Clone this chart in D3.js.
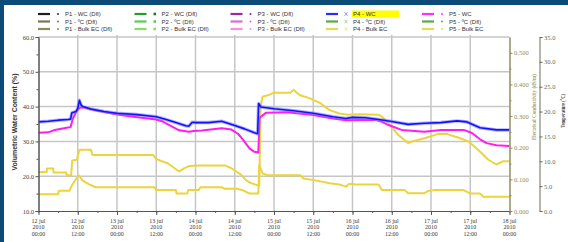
<!DOCTYPE html>
<html>
<head>
<meta charset="utf-8" />
<script src="https://d3js.org/d3.v7.min.js"></script>
<style>
  body {margin: 0; background: #fff;}
  text {font-family: "Liberation Serif", serif;}
</style>
</head>
<body>
<svg id="chart"></svg>
<script>
var width = 568, height = 242;

// [hours since 12 jul 2010 00:00, value]
var p4Wc = [[0,35.6],[3,35.8],[6,36.1],[9,36.3],[9.8,36.4],[10.2,38.2],[11.5,38.6],[12,39.5],[12.5,41.8],[13,40.5],[13.5,40.0],[16,39.3],[20,38.6],[24,38.1],[30,37.7],[36,37.1],[39,36.3],[42,35.4],[45,34.5],[46,34.4],[47,35.5],[48,35.4],[52,35.4],[56,35.8],[60,34.6],[63,33.6],[66,32.5],[67,32.2],[67.3,40.9],[68,39.9],[72,39.4],[78,38.8],[84,38.1],[90,37.1],[94,36.6],[96,36.9],[100,36.8],[104,36.3],[108,35.7],[113,34.9],[118,35.2],[123,35.4],[128,35.9],[131,35.6],[135,33.9],[140,33.3],[144,33.3]];

var p5Wc = [[0,32.5],[3,32.6],[5,33.3],[9,34.0],[9.8,34.1],[10.5,36.5],[11.5,38.5],[12.5,39.6],[13.5,39.8],[17,39.0],[24,37.7],[29,37.1],[36,36.3],[38,35.7],[40,34.7],[43,33.2],[46,32.8],[47.5,33.0],[50,33.1],[56,33.8],[59,33.4],[61,32.2],[62.5,30.5],[64.5,28.0],[66,27.0],[67.2,26.8],[67.6,36.8],[69.5,38.2],[76,38.4],[84,37.6],[90,36.6],[94,36.1],[103,36.2],[105,35.6],[107,34.7],[111,33.3],[118,32.8],[123,33.3],[130,33.3],[132.5,32.4],[135,30.6],[137,29.5],[140,28.9],[144,28.7]];

// bulk EC in dS/m
var p4Ec = [[0,0.053],[6,0.053],[6.2,0.064],[9.5,0.064],[10,0.077],[11,0.094],[12.3,0.113],[13.5,0.096],[15.5,0.084],[17.5,0.075],[35.5,0.075],[36,0.066],[42,0.066],[42.2,0.055],[45.5,0.055],[45.7,0.066],[49,0.066],[49.5,0.075],[56,0.075],[57,0.070],[61,0.070],[63,0.063],[64.5,0.055],[67.2,0.055],[67.5,0.145],[68.5,0.119],[70,0.113],[80,0.113],[81,0.103],[85,0.096],[89,0.088],[92,0.084],[94,0.077],[95,0.086],[97,0.084],[104,0.084],[105,0.066],[112,0.066],[113,0.056],[118,0.056],[119,0.063],[121,0.066],[130,0.066],[132,0.055],[135,0.055],[136,0.045],[144,0.045]];

var p5Ec = [[0,0.123],[2.5,0.123],[2.6,0.134],[4.5,0.134],[4.6,0.122],[8.5,0.122],[8.6,0.113],[10,0.113],[10.3,0.160],[11.8,0.162],[12,0.176],[12.6,0.194],[16,0.194],[16.5,0.177],[35,0.177],[36,0.165],[37.5,0.158],[39.5,0.151],[41.5,0.136],[43,0.125],[44.5,0.135],[46,0.142],[49,0.144],[57,0.144],[59,0.135],[61,0.121],[62,0.114],[63.5,0.097],[65,0.088],[67,0.081],[67.5,0.081],[67.9,0.330],[68.5,0.361],[70.5,0.367],[72,0.374],[77,0.374],[78,0.383],[79,0.374],[80,0.366],[83,0.356],[86,0.342],[89,0.319],[92,0.308],[94.5,0.304],[98,0.306],[104,0.304],[105,0.298],[107,0.278],[110,0.240],[113,0.215],[115,0.222],[118,0.230],[122,0.243],[125,0.243],[128,0.233],[131.5,0.220],[134.5,0.193],[137.5,0.162],[140,0.147],[142,0.157],[144,0.157]];

var wcTicks = [10, 20, 30, 40, 50, 60];
var ecTicks = [0, 0.1, 0.2, 0.3, 0.4, 0.5];
var tempTicks = [0, 5, 10, 15, 20, 25, 30, 35];

var legendNames = [
  ["P1 - WC (Dfl)", "P1 - \u00baC (Dfl)", "P1 - Bulk EC (Dfl)"],
  ["P2 - WC (Dfl)", "P2 - \u00baC (Dfl)", "P2 - Bulk EC (Dfl)"],
  ["P3 - WC (Dfl)", "P3 - \u00baC (Dfl)", "P3 - Bulk EC (Dfl)"],
  ["P4 - WC", "P4 - \u00baC (Dfl)", "P4 - Bulk EC"],
  ["P5 - WC", "P5 - \u00baC (Dfl)", "P5 - Bulk EC"]
];
var legendColors = [
  ["#1e1e1e", "#77775a", "#8c8c55"],
  ["#2a9a2a", "#5acb5a", "#82e060"],
  ["#9a2a9a", "#d96ad9", "#ff8fd0"],
  ["#2b2bff", "#5aaa48", "#ecd84e"],
  ["#ff30ff", "#5aaa48", "#ecd84e"]
];
var legendMarkColors = [
  ["#333", "#77775a", "#8c8c55"],
  ["#1d7a1d", "#5acb5a", "#82e060"],
  ["#7a2a7a", "#d96ad9", "#ff8fd0"],
  ["#8d8dff", "#9ed08e", "#f2e48a"],
  ["#ff30ff", "#5aaa48", "#ecd84e"]
];

var svg = d3.select("#chart").attr("width", width).attr("height", height);

svg.append("rect").attr("width", width).attr("height", height).attr("fill", "#fff");
svg.append("rect").attr("width", 4).attr("height", height).attr("fill", "#0c4a78");
svg.append("rect").attr("width", width).attr("height", 5).attr("fill", "#0c4a78");

var t0 = Date.UTC(2010, 6, 12);
function toDate(h) { return new Date(t0 + h * 3600e3); }

var x = d3.scaleUtc().domain([toDate(0), toDate(144)]).range([38.5, 509.5]);
var yWc = d3.scaleLinear().domain([10, 60]).range([211, 37]);
var yEc = d3.scaleLinear().domain([0, 0.55]).range([211, 37]);
var yT = d3.scaleLinear().domain([0, 35]).range([211, 37]);

// grid
var grid = svg.append("g");
grid.selectAll("line.v").data(d3.utcHour.every(12).range(toDate(12), toDate(144)))
  .enter().append("line")
  .attr("x1", d => x(d)).attr("x2", d => x(d))
  .attr("y1", 35).attr("y2", 211)
  .attr("stroke", "#c6c6c6").attr("stroke-width", 1.5);
grid.selectAll("line.h").data(wcTicks.slice(1))
  .enter().append("line")
  .attr("x1", 38.5).attr("x2", 509.5)
  .attr("y1", d => yWc(d)).attr("y2", d => yWc(d))
  .attr("stroke", "#c6c6c6").attr("stroke-width", 1.5);

// lines
var lineWc = d3.line().x(d => x(toDate(d[0]))).y(d => yWc(d[1]));
var lineEc = d3.line().x(d => x(toDate(d[0]))).y(d => yEc(d[1]));

[p4Ec, p5Ec].forEach(function(s) {
  svg.append("path").attr("d", lineEc(s)).attr("fill", "none")
    .attr("stroke", "#ecd43c").attr("stroke-width", 2).attr("stroke-linejoin", "round");
});
svg.append("path").attr("d", lineWc(p5Wc)).attr("fill", "none")
  .attr("stroke", "#ff1cf4").attr("stroke-width", 2).attr("stroke-linejoin", "round");
svg.append("path").attr("d", lineWc(p4Wc)).attr("fill", "none")
  .attr("stroke", "#8080ff").attr("stroke-width", 3.5).attr("stroke-opacity", 0.6)
  .attr("stroke-linejoin", "round");
svg.append("path").attr("d", lineWc(p4Wc)).attr("fill", "none")
  .attr("stroke", "#1212ff").attr("stroke-width", 1.6).attr("stroke-linejoin", "round");

// axes
function styleAxis(g, color, size) {
  g.selectAll("path.domain").attr("stroke", color);
  g.selectAll("line").attr("stroke", color);
  g.selectAll("text").attr("fill", color).style("font-size", size + "px")
    .style("font-family", "'Liberation Serif', serif");
}

var left = svg.append("g").attr("transform", "translate(38.5,0)")
  .call(d3.axisLeft(yWc).tickValues(wcTicks).tickFormat(d3.format(".1f")).tickSize(3).tickPadding(1.5));
styleAxis(left, "#555", 6.5);
left.selectAll("text").attr("fill", "#444");
svg.append("g").attr("transform", "translate(38.5,0)")
  .call(d3.axisLeft(yWc).tickValues([15, 25, 35, 45, 55]).tickFormat("").tickSize(2).tickSizeOuter(0))
  .call(g => styleAxis(g, "#555", 6));

var bottom = svg.append("g").attr("transform", "translate(0,211)")
  .call(d3.axisBottom(x).ticks(d3.utcHour.every(12)).tickFormat("").tickSize(4).tickSizeOuter(0));
styleAxis(bottom, "#555", 6);
svg.append("g").attr("transform", "translate(0,211)")
  .call(d3.axisBottom(x).ticks(d3.utcHour.every(6)).tickFormat("").tickSize(2).tickSizeOuter(0))
  .call(g => styleAxis(g, "#555", 6));

var fDay = d3.utcFormat("%-d jul"), fYear = d3.utcFormat("%Y"), fTime = d3.utcFormat("%H:%M");
var xl = svg.append("g").selectAll("text").data(d3.utcHour.every(12).range(toDate(0), toDate(145)))
  .enter().append("text")
  .attr("text-anchor", "middle").attr("fill", "#3a3a3a").style("font-size", "6px");
xl.append("tspan").attr("x", d => x(d)).attr("y", 222.5).text(fDay);
xl.append("tspan").attr("x", d => x(d)).attr("y", 229).text(fYear);
xl.append("tspan").attr("x", d => x(d)).attr("y", 235.5).text(fTime);

var ecAxis = svg.append("g").attr("transform", "translate(509.5,0)")
  .call(d3.axisRight(yEc).tickValues(ecTicks).tickFormat(d3.format(".3f")).tickSize(3).tickPadding(1.5).tickSizeOuter(0));
styleAxis(ecAxis, "#8e8e62", 6.5);
svg.append("g").attr("transform", "translate(509.5,0)")
  .call(d3.axisRight(yEc).tickValues([0.05, 0.15, 0.25, 0.35, 0.45]).tickFormat("").tickSize(2).tickSizeOuter(0))
  .call(g => styleAxis(g, "#8e8e62", 6));

var tAxis = svg.append("g").attr("transform", "translate(539.5,0)")
  .call(d3.axisRight(yT).tickValues(tempTicks).tickFormat(d3.format(".1f")).tickSize(3).tickPadding(1.5).tickSizeOuter(3));
styleAxis(tAxis, "#6c6c55", 6.5);

// axis titles
svg.append("text").attr("transform", "translate(16.5,122) rotate(-90)")
  .attr("text-anchor", "middle").attr("fill", "#333")
  .style("font-family", "'Liberation Sans', sans-serif").style("font-weight", "bold").style("font-size", "6.5px")
  .attr("textLength", 97).attr("lengthAdjust", "spacingAndGlyphs")
  .text("Volumetric Water Content (%)");
svg.append("text").attr("transform", "translate(536,107) rotate(-90)")
  .attr("text-anchor", "middle").attr("fill", "#a3a373")
  .style("font-size", "6.5px").style("font-weight", "bold")
  .attr("textLength", 66).attr("lengthAdjust", "spacingAndGlyphs")
  .text("Electrical Conductivity (dS/m)");
svg.append("text").attr("transform", "translate(564.5,111) rotate(-90)")
  .attr("text-anchor", "middle").attr("fill", "#444")
  .style("font-size", "6.5px").style("font-weight", "bold")
  .attr("textLength", 34).attr("lengthAdjust", "spacingAndGlyphs")
  .text("Temperature (\u00baC)");

// legend
var colX = [38, 134.5, 230.5, 326, 422];
var rowY = [14, 21.5, 29];
legendNames.forEach(function(col, i) {
  col.forEach(function(name, j) {
    var g = svg.append("g").attr("transform", "translate(" + colX[i] + "," + rowY[j] + ")");
    g.append("line").attr("x1", 0).attr("x2", 12).attr("y1", 0).attr("y2", 0)
      .attr("stroke", legendColors[i][j]).attr("stroke-width", 2.2);
    var mc = legendMarkColors[i][j];
    if (i === 3) {
      g.append("path").attr("d", "M18.5,-1.8L21.5,1.8M18.5,1.8L21.5,-1.8")
        .attr("stroke", mc).attr("stroke-width", 0.9);
    } else if (i === 1) {
      g.append("rect").attr("x", 19).attr("y", -1.3).attr("width", 2.6).attr("height", 2.6).attr("fill", mc);
    } else {
      g.append("circle").attr("cx", 20).attr("cy", 0).attr("r", 1).attr("fill", mc);
    }
    if (i === 3 && j === 0) {
      g.append("rect").attr("x", 26).attr("y", -3.5).attr("width", 47).attr("height", 7).attr("fill", "#ffff00");
    }
    g.append("text").attr("x", 27).attr("y", 2.1).attr("fill", "#333")
      .style("font-family", "'Liberation Sans', sans-serif").style("font-size", "6px")
      .text(name);
  });
});
</script>
</body>
</html>
